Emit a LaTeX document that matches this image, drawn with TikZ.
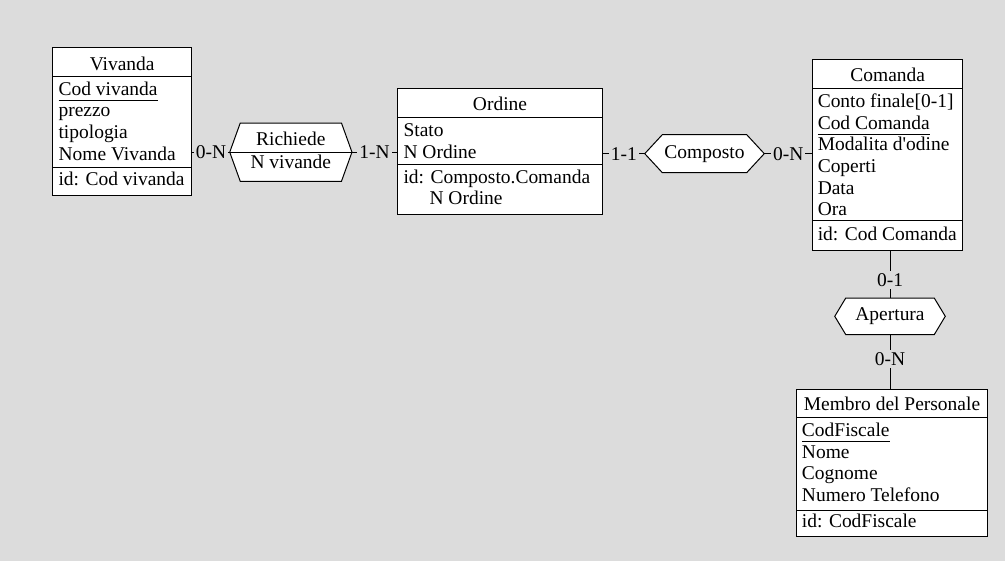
\documentclass[tikz,border=0pt]{standalone}
\usepackage{fontspec}
\setmainfont{Liberation Serif}[Ligatures=TeXOff]
\usetikzlibrary{fit, calc}
\definecolor{CanvasGray}{HTML}{DCDCDC}
\newcommand{\erfont}{\fontsize{14.6}{16}\selectfont}
\newcommand{\keyattr}[1]{\underline{\vrule width 0pt depth 2.4pt #1}}
% hexagon round an (empty) relation node: node name, corner offset
\newcommand{\relhex}[2]{%
  \filldraw[fill=white, draw=black, line width=0.75pt] (#1.west) -- ($(#1.north west)+(#2,0)$) -- ($(#1.north east)+(-#2,0)$) -- (#1.east) -- ($(#1.south east)+(-#2,0)$) -- ($(#1.south west)+(#2,0)$) -- cycle;}
\tikzset{
  % Box styles
  entitybox/.style={rectangle, draw=black, fill=white, line width=0.75pt, inner sep=0pt},
  relbox/.style={rectangle, inner sep=0pt},
  % Text styles
  headtext/.style={anchor=base, inner sep=0pt, font=\erfont},
  attrtext/.style={anchor=base west, inner sep=0pt, font=\erfont},
  reltext/.style={inner sep=0pt, font=\erfont},
  % Line styles
  link/.style={draw=black, line width=0.75pt},
  divider/.style={draw=black, line width=0.75pt},
  cardlabel/.style={fill=CanvasGray, inner sep=1.5pt, font=\erfont}
}
\begin{document}
\begin{tikzpicture}[x=0.75pt, y=-0.75pt]
  % Canvas
  \fill[CanvasGray] (0,0) rectangle (1005,561);
  \useasboundingbox (0,0) rectangle (1005,561);

  % Vivanda
  \node[entitybox, fit={(52.7,47.3) (191.7,195)}] (viv) {};
  \draw[divider] (52.7,76) -- (191.7,76);
  \draw[divider] (52.7,167) -- (191.7,167);
  \node[headtext] (viv-t) at (122.2,70.7) {Vivanda};
  \node[attrtext] (viv-a1) at (58.3,95) {\keyattr{Cod vivanda}};
  \node[attrtext] (viv-a2) at (58.3,116.7) {prezzo};
  \node[attrtext] (viv-a3) at (58.3,138.4) {tipologia};
  \node[attrtext] (viv-a4) at (58.3,160.1) {Nome Vivanda};
  \node[attrtext] (viv-id) at (58.3,185.5) {id: Cod vivanda};

  % Ordine
  \node[entitybox, fit={(397.5,88.3) (602.5,214)}] (ord) {};
  \draw[divider] (397.5,117.3) -- (602.5,117.3);
  \draw[divider] (397.5,164.3) -- (602.5,164.3);
  \node[headtext] (ord-t) at (500,110) {Ordine};
  \node[attrtext] (ord-a1) at (403.3,136.3) {Stato};
  \node[attrtext] (ord-a2) at (403.3,158) {N Ordine};
  \node[attrtext] (ord-id1) at (403.3,183.3) {id: Composto.Comanda};
  \node[attrtext] (ord-id2) at (429.3,204.5) {N Ordine};

  % Comanda
  \node[entitybox, fit={(812.7,59.3) (962.7,250)}] (cmd) {};
  \draw[divider] (812.7,88.3) -- (962.7,88.3);
  \draw[divider] (812.7,220) -- (962.7,220);
  \node[headtext] (cmd-t) at (887.7,81.5) {Comanda};
  \node[attrtext] (cmd-a1) at (817.5,107.3) {Conto finale[0-1]};
  \node[attrtext] (cmd-a2) at (817.5,129) {\keyattr{Cod Comanda}};
  \node[attrtext] (cmd-a3) at (817.5,150.7) {Modalita d'odine};
  \node[attrtext] (cmd-a4) at (817.5,172.4) {Coperti};
  \node[attrtext] (cmd-a5) at (817.5,194.1) {Data};
  \node[attrtext] (cmd-a6) at (817.5,215.6) {Ora};
  \node[attrtext] (cmd-id) at (817.5,240.3) {id: Cod Comanda};

  % Membro del Personale
  \node[entitybox, fit={(796.7,389.3) (987.3,536.7)}] (mem) {};
  \draw[divider] (796.7,417.7) -- (987.3,417.7);
  \draw[divider] (796.7,510) -- (987.3,510);
  \node[headtext] (mem-t) at (892,410.7) {Membro del Personale};
  \node[attrtext] (mem-a1) at (801.7,436.5) {\keyattr{CodFiscale}};
  \node[attrtext] (mem-a2) at (801.7,458.2) {Nome};
  \node[attrtext] (mem-a3) at (801.7,479.9) {Cognome};
  \node[attrtext] (mem-a4) at (801.7,501.6) {Numero Telefono};
  \node[attrtext] (mem-id) at (801.7,527.8) {id: CodFiscale};

  % Relations
  \node[relbox, fit={(230,123.3) (351.7,181)}] (ric) {};
  \relhex{ric}{10.5}
  \draw[divider] (ric.west) -- (ric.east);
  \node[headtext] (ric-t) at (290.8,145) {Richiede};
  \node[headtext] (ric-a) at (290.8,168.3) {N vivande};

  \node[relbox, fit={(645,135) (764,172.3)}] (cmp) {};
  \relhex{cmp}{17.5}
  \node[reltext] (cmp-t) at (cmp.center) {Composto};

  \node[relbox, fit={(835,298.3) (945,334.3)}] (ape) {};
  \relhex{ape}{11}
  \node[reltext] (ape-t) at (ape.center) {Apertura};

  % Connectors
  \draw[link] (viv.east |- ric.west) -- node[cardlabel] (c1) {0-N} (ric.west);
  \draw[link] (ric.east) -- node[cardlabel] (c2) {1-N} (ord.west |- ric.east);
  \draw[link] (ord.east |- cmp.west) -- node[cardlabel] (c3) {1-1} (cmp.west);
  \draw[link] (cmp.east) -- node[cardlabel] (c4) {0-N} (cmd.west |- cmp.east);
  \draw[link] (cmd.south -| ape.north) -- node[cardlabel, pos=0.62] (c5) {0-1} (ape.north);
  \draw[link] (ape.south) -- node[cardlabel, pos=0.45] (c6) {0-N} (mem.north -| ape.south);
\end{tikzpicture}
\end{document}
